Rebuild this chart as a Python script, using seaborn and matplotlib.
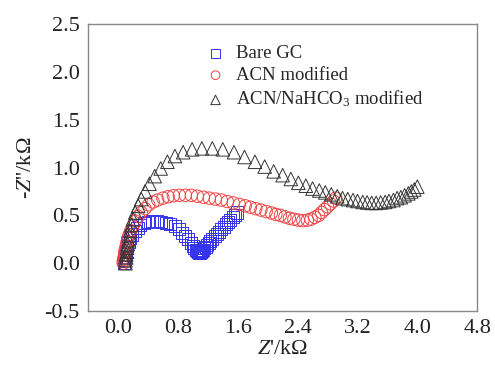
import numpy as np
import pandas as pd
import matplotlib
matplotlib.use("Agg")
import matplotlib.pyplot as plt
import seaborn as sns
from matplotlib.ticker import MultipleLocator

# --- Nyquist data (kOhm) ---
bare_x = [0.08, 0.08, 0.09, 0.10, 0.11, 0.12, 0.14, 0.16, 0.19, 0.22, 0.26, 0.30, 0.35, 0.40,
          0.46, 0.52, 0.58, 0.64, 0.70, 0.76, 0.81, 0.86, 0.90, 0.94, 0.97, 1.00, 1.02, 1.04,
          1.06, 1.07, 1.08, 1.09, 1.10, 1.11, 1.12, 1.13, 1.15, 1.17, 1.19, 1.21, 1.23, 1.26,
          1.29, 1.32, 1.35, 1.38, 1.41, 1.44, 1.47, 1.50, 1.53, 1.56, 1.59]
bare_y = [0.00, 0.03, 0.06, 0.10, 0.14, 0.18, 0.22, 0.26, 0.30, 0.34, 0.37, 0.40, 0.42, 0.435,
          0.44, 0.44, 0.435, 0.425, 0.41, 0.385, 0.355, 0.32, 0.285, 0.25, 0.215, 0.185, 0.16, 0.14,
          0.125, 0.115, 0.11, 0.11, 0.115, 0.12, 0.13, 0.14, 0.155, 0.17, 0.19, 0.21, 0.23, 0.255,
          0.28, 0.305, 0.33, 0.355, 0.38, 0.405, 0.43, 0.455, 0.48, 0.505, 0.53]

acn_x = [0.07, 0.07, 0.08, 0.08, 0.09, 0.09, 0.10, 0.11, 0.12, 0.13, 0.15, 0.17, 0.20, 0.23,
         0.27, 0.31, 0.36, 0.41, 0.47, 0.53, 0.60, 0.67, 0.74, 0.82, 0.90, 0.98, 1.06, 1.14,
         1.22, 1.30, 1.38, 1.46, 1.54, 1.62, 1.70, 1.77, 1.84, 1.91, 1.98, 2.05, 2.11, 2.17,
         2.23, 2.29, 2.35, 2.41, 2.47, 2.53, 2.58, 2.63, 2.68, 2.72, 2.76, 2.80, 2.84, 2.88, 2.91]
acn_y = [0.00, 0.02, 0.04, 0.06, 0.09, 0.12, 0.15, 0.18, 0.22, 0.26, 0.30, 0.34, 0.39, 0.44,
         0.49, 0.53, 0.57, 0.61, 0.64, 0.66, 0.68, 0.695, 0.705, 0.71, 0.71, 0.71, 0.70, 0.69,
         0.68, 0.67, 0.66, 0.645, 0.63, 0.615, 0.60, 0.585, 0.57, 0.555, 0.54, 0.525, 0.51, 0.50,
         0.485, 0.47, 0.46, 0.45, 0.445, 0.45, 0.46, 0.48, 0.50, 0.53, 0.56, 0.59, 0.62, 0.65, 0.68]

nahco3_x = [0.10, 0.10, 0.11, 0.11, 0.12, 0.12, 0.13, 0.14, 0.15, 0.16, 0.18, 0.20, 0.23, 0.27,
            0.31, 0.36, 0.42, 0.49, 0.57, 0.66, 0.76, 0.87, 0.99, 1.12, 1.26, 1.40, 1.55, 1.69,
            1.83, 1.96, 2.08, 2.20, 2.31, 2.41, 2.51, 2.60, 2.69, 2.77, 2.85, 2.93, 3.00, 3.07,
            3.14, 3.20, 3.27, 3.33, 3.39, 3.45, 3.51, 3.57, 3.62, 3.68, 3.73, 3.78, 3.83, 3.88,
            3.92, 3.96, 4.00]
nahco3_y = [0.00, 0.03, 0.06, 0.09, 0.12, 0.16, 0.20, 0.24, 0.29, 0.34, 0.40, 0.46, 0.53, 0.60,
            0.67, 0.75, 0.83, 0.91, 0.99, 1.06, 1.12, 1.16, 1.19, 1.20, 1.20, 1.19, 1.16, 1.11,
            1.06, 1.01, 0.96, 0.92, 0.88, 0.84, 0.81, 0.78, 0.76, 0.74, 0.72, 0.70, 0.68, 0.67,
            0.66, 0.65, 0.64, 0.635, 0.63, 0.63, 0.635, 0.64, 0.65, 0.66, 0.68, 0.69, 0.71, 0.73,
            0.75, 0.77, 0.80]

series = [
    ("Bare GC", bare_x, bare_y, "s", "#3333ee", 75),
    ("ACN modified", acn_x, acn_y, "o", "#ee4444", 80),
    ("ACN/NaHCO$_3$ modified", nahco3_x, nahco3_y, "^", "#333333", 95),
]

sns.set_style("white")
plt.rcParams["font.family"] = ["Liberation Serif", "DejaVu Serif"]
plt.rcParams["mathtext.fontset"] = "custom"
plt.rcParams["mathtext.rm"] = "Liberation Serif"
plt.rcParams["mathtext.it"] = "Liberation Serif:italic"

fig = plt.figure(figsize=(4.95, 3.69), dpi=100)
ax = fig.add_axes([0.178, 0.157, 0.786, 0.778])

for label, xs, ys, mk, col, size in series:
    df = pd.DataFrame({"x": xs, "y": ys})
    sns.scatterplot(data=df, x="x", y="y", ax=ax, marker=mk, s=size,
                    facecolors="none", edgecolor=col, color=col,
                    linewidth=0.7, label=label, legend=False)

ax.set_xlim(-0.4, 4.8)
ax.set_ylim(-0.5, 2.5)
ax.xaxis.set_minor_locator(MultipleLocator(0.4))
ax.yaxis.set_minor_locator(MultipleLocator(0.25))
ax.set_xticks([0.0, 0.8, 1.6, 2.4, 3.2, 4.0, 4.8])
ax.set_xticklabels(["0.0", "0.8", "1.6", "2.4", "3.2", "4.0", "4.8"])
ax.set_yticks([-0.5, 0.0, 0.5, 1.0, 1.5, 2.0, 2.5])
ax.set_yticklabels(["-0.5", "0.0", "0.5", "1.0", "1.5", "2.0", "2.5"])

ax.tick_params(which="both", direction="in", colors="#888888", labelcolor="#222222",
               labelsize=16, top=False, right=False)
ax.tick_params(which="major", length=5, width=0.8, pad=6)
ax.tick_params(which="minor", length=3, width=0.8)
for sp in ax.spines.values():
    sp.set_color("#888888")
    sp.set_linewidth(1.0)

ax.set_xlabel("$Z$'/k\u03a9", fontsize=16, labelpad=1, color="#222222")
ax.set_ylabel("-$Z$''/k\u03a9", fontsize=16, labelpad=6, color="#222222")

leg = ax.legend(loc="upper left", bbox_to_anchor=(0.26, 0.985), frameon=False,
                fontsize=13.5, markerscale=0.7, handletextpad=0.6, labelspacing=0.25,
                handlelength=1.0)

fig.savefig("out.png", dpi=100)
